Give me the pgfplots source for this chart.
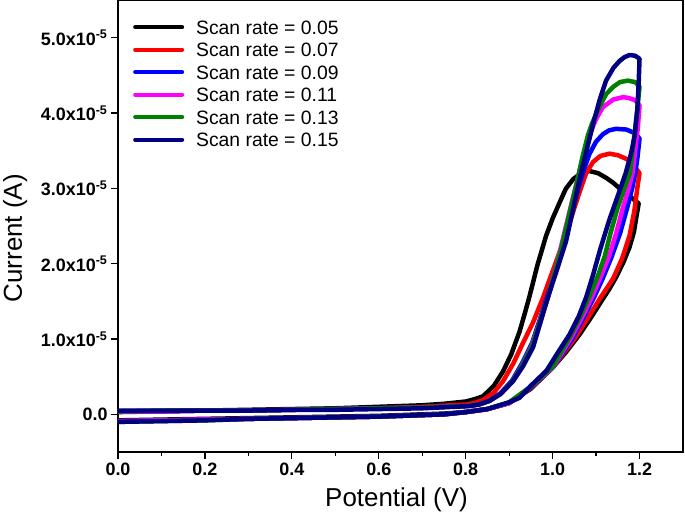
\documentclass[border=0pt]{standalone}
\usepackage{pgfplots}
\pgfplotsset{compat=1.18}
\usepackage{fontspec}
\setmainfont{Liberation Sans}
\definecolor{cvnavy}{RGB}{0,0,128}
\definecolor{cvgreen}{RGB}{0,128,0}
\definecolor{cvmag}{RGB}{255,0,255}
\definecolor{cvred}{RGB}{255,0,0}
\definecolor{cvblue}{RGB}{0,0,255}
\begin{document}
\begin{tikzpicture}
\begin{axis}[
  scale only axis, width=565bp, height=452bp,
  xmin=0, xmax=1.3, ymin=-0.5, ymax=5.5,
  xtick={0,0.2,0.4,0.6,0.8,1.0,1.2},
  xticklabels={0.0,0.2,0.4,0.6,0.8,1.0,1.2},
  minor x tick num=1,
  ytick={0,1,2,3,4,5},
  yticklabels={0.0,1.0x10\textsuperscript{-5},2.0x10\textsuperscript{-5},3.0x10\textsuperscript{-5},4.0x10\textsuperscript{-5},5.0x10\textsuperscript{-5}},
  tick align=outside, xtick pos=bottom, ytick pos=left,
  major tick length=7bp, minor tick length=4bp,
  every tick/.style={black, line width=1.3bp},
  axis line style={line width=1.5bp},
  tick label style={font=\fontsize{18}{20}\selectfont\bfseries},
  xlabel={Potential (V)}, ylabel={Current (A)},
  label style={font=\fontsize{26}{30}\selectfont},
  xlabel style={at={(rel axis cs:0.5,0)}, anchor=base, yshift=-54bp, xshift=-4bp},
  ylabel style={at={([xshift=-96bp]rel axis cs:0,0.473)}, anchor=base},
  every axis plot/.append style={line width=4.5bp, line join=round, line cap=round, no markers},
  legend image code/.code={\draw[#1, line width=4bp, line cap=round] (0bp,0bp) -- (47bp,0bp);},
  legend cell align=left,
  legend style={at={(rel axis cs:0.0265,0.956)}, anchor=north west, draw=none, fill=none,
    inner sep=0pt, column sep=12bp, row sep=8.5bp,
    nodes={inner sep=0pt, text height=14bp, text depth=0bp},
    font=\fontsize{19.4}{22}\selectfont},
]
% black 0.05
\addplot[color=black] coordinates {
(0,-0.08)(0.1,-0.07)(0.2,-0.06)(0.3,-0.05)(0.4,-0.04)(0.5,-0.03)(0.6,-0.02)(0.7,0.0)(0.75,0.01)(0.8,0.03)(0.85,0.07)(0.9,0.15)(0.95,0.34)(1.0,0.62)(1.03,0.82)(1.062,1.06)(1.09,1.3)(1.112,1.50)(1.13,1.66)(1.146,1.82)(1.163,2.02)(1.177,2.22)(1.187,2.42)(1.193,2.63)(1.198,2.8)
(1.185,2.86)(1.17,2.93)(1.154,3.0)(1.138,3.08)(1.123,3.14)(1.105,3.2)(1.085,3.23)(1.065,3.2)(1.047,3.12)(1.03,2.99)(1.016,2.81)(1.0,2.6)(0.985,2.37)(0.965,1.98)(0.947,1.57)(0.935,1.32)(0.924,1.10)(0.905,0.8)(0.886,0.57)(0.865,0.38)(0.84,0.24)(0.82,0.2)(0.8,0.17)(0.75,0.14)(0.7,0.12)(0.6,0.1)(0.5,0.08)(0.4,0.07)(0.3,0.06)(0.2,0.05)(0.1,0.04)(0,0.03)
};
\addlegendentry{Scan rate = 0.05}
% red 0.07
\addplot[color=cvred] coordinates {
(0,-0.09)(0.1,-0.08)(0.2,-0.07)(0.3,-0.06)(0.4,-0.05)(0.5,-0.04)(0.6,-0.03)(0.7,-0.01)(0.75,0.0)(0.8,0.03)(0.85,0.07)(0.9,0.15)(0.95,0.35)(1.0,0.62)(1.05,1.0)(1.08,1.27)(1.108,1.53)(1.139,1.80)(1.16,2.07)(1.177,2.37)(1.188,2.7)(1.196,3.05)(1.2,3.2)
(1.185,3.32)(1.17,3.39)(1.15,3.44)(1.131,3.46)(1.11,3.43)(1.093,3.35)(1.077,3.2)(1.062,2.95)(1.045,2.65)(1.024,2.28)(1.0,1.9)(0.978,1.55)(0.955,1.22)(0.932,0.95)(0.91,0.68)(0.886,0.44)(0.865,0.29)(0.84,0.19)(0.82,0.15)(0.8,0.13)(0.7,0.1)(0.6,0.08)(0.5,0.07)(0.4,0.06)(0.3,0.05)(0.2,0.05)(0.1,0.04)(0,0.04)
};
\addlegendentry{Scan rate = 0.07}
% blue 0.09
\addplot[color=cvblue] coordinates {
(0,-0.09)(0.1,-0.08)(0.2,-0.07)(0.3,-0.06)(0.4,-0.05)(0.5,-0.04)(0.6,-0.03)(0.7,-0.01)(0.75,0.0)(0.8,0.03)(0.85,0.07)(0.9,0.15)(0.95,0.36)(1.0,0.62)(1.045,1.0)(1.07,1.27)(1.095,1.55)(1.115,1.8)(1.135,2.08)(1.155,2.4)(1.172,2.75)(1.183,3.0)(1.19,3.2)(1.195,3.4)(1.2,3.66)
(1.19,3.73)(1.17,3.78)(1.146,3.79)(1.13,3.77)(1.116,3.72)(1.1,3.62)(1.085,3.46)(1.072,3.25)(1.06,3.02)(1.045,2.7)(1.03,2.35)(1.01,1.95)(0.987,1.55)(0.97,1.25)(0.953,0.95)(0.93,0.68)(0.907,0.45)(0.88,0.28)(0.855,0.18)(0.83,0.13)(0.8,0.11)(0.7,0.09)(0.6,0.08)(0.5,0.07)(0.4,0.06)(0.3,0.05)(0.2,0.05)(0.1,0.04)(0,0.04)
};
\addlegendentry{Scan rate = 0.09}
% magenta 0.11
\addplot[color=cvmag] coordinates {
(0,-0.09)(0.1,-0.08)(0.2,-0.07)(0.3,-0.06)(0.4,-0.05)(0.5,-0.04)(0.6,-0.03)(0.7,-0.01)(0.75,0.0)(0.8,0.03)(0.85,0.07)(0.9,0.15)(0.95,0.37)(1.0,0.62)(1.043,1.02)(1.067,1.28)(1.09,1.55)(1.11,1.82)(1.13,2.1)(1.146,2.4)(1.162,2.75)(1.175,3.0)(1.184,3.2)(1.19,3.5)(1.196,3.8)(1.2,4.1)
(1.19,4.17)(1.175,4.2)(1.162,4.21)(1.14,4.18)(1.116,4.08)(1.1,3.92)(1.087,3.74)(1.077,3.57)(1.065,3.3)(1.05,2.95)(1.033,2.55)(1.012,2.05)(0.989,1.55)(0.97,1.22)(0.953,0.92)(0.93,0.65)(0.908,0.44)(0.88,0.27)(0.855,0.18)(0.83,0.13)(0.8,0.11)(0.7,0.09)(0.6,0.08)(0.5,0.07)(0.4,0.06)(0.3,0.05)(0.2,0.05)(0.1,0.04)(0,0.04)
};
\addlegendentry{Scan rate = 0.11}
% green 0.13
\addplot[color=cvgreen] coordinates {
(0,-0.1)(0.1,-0.09)(0.2,-0.08)(0.3,-0.06)(0.4,-0.05)(0.5,-0.04)(0.6,-0.03)(0.7,-0.01)(0.75,0.0)(0.8,0.03)(0.85,0.07)(0.9,0.16)(0.95,0.37)(1.0,0.63)(1.041,1.04)(1.064,1.3)(1.085,1.57)(1.105,1.85)(1.12,2.1)(1.133,2.4)(1.15,2.75)(1.165,3.0)(1.178,3.2)(1.186,3.6)(1.194,4.0)(1.2,4.35)
(1.19,4.41)(1.173,4.43)(1.155,4.41)(1.14,4.35)(1.123,4.25)(1.105,4.05)(1.09,3.85)(1.081,3.7)(1.068,3.4)(1.055,3.05)(1.04,2.7)(1.02,2.2)(0.99,1.57)(0.97,1.22)(0.954,0.92)(0.93,0.65)(0.908,0.44)(0.88,0.27)(0.855,0.18)(0.83,0.13)(0.8,0.11)(0.7,0.09)(0.6,0.08)(0.5,0.07)(0.4,0.06)(0.3,0.05)(0.2,0.05)(0.1,0.05)(0,0.04)
};
\addlegendentry{Scan rate = 0.13}
% navy 0.15
\addplot[color=cvnavy] coordinates {
(0,-0.1)(0.1,-0.09)(0.2,-0.08)(0.3,-0.06)(0.4,-0.05)(0.5,-0.04)(0.6,-0.03)(0.7,-0.01)(0.75,0.0)(0.8,0.03)(0.85,0.07)(0.9,0.16)(0.924,0.22)(0.95,0.38)(0.986,0.58)(1.01,0.8)(1.039,1.06)(1.06,1.3)(1.077,1.55)(1.093,1.85)(1.11,2.2)(1.131,2.59)(1.15,2.9)(1.168,3.2)(1.18,3.45)(1.189,3.7)(1.195,4.05)(1.198,4.4)(1.2,4.72)
(1.19,4.76)(1.177,4.77)(1.165,4.74)(1.154,4.69)(1.14,4.6)(1.123,4.43)(1.108,4.17)(1.093,3.85)(1.078,3.5)(1.062,3.12)(1.047,2.72)(1.031,2.3)(1.01,1.92)(0.989,1.55)(0.972,1.22)(0.955,0.89)(0.932,0.64)(0.909,0.44)(0.88,0.27)(0.855,0.18)(0.83,0.13)(0.809,0.11)(0.7,0.08)(0.6,0.07)(0.5,0.06)(0.4,0.06)(0.3,0.05)(0.2,0.05)(0.1,0.05)(0,0.05)
};
\addlegendentry{Scan rate = 0.15}
\end{axis}
\pgfresetboundingbox
\path[use as bounding box] (-118bp,-66bp) rectangle (567bp,452bp);
\end{tikzpicture}
\end{document}
